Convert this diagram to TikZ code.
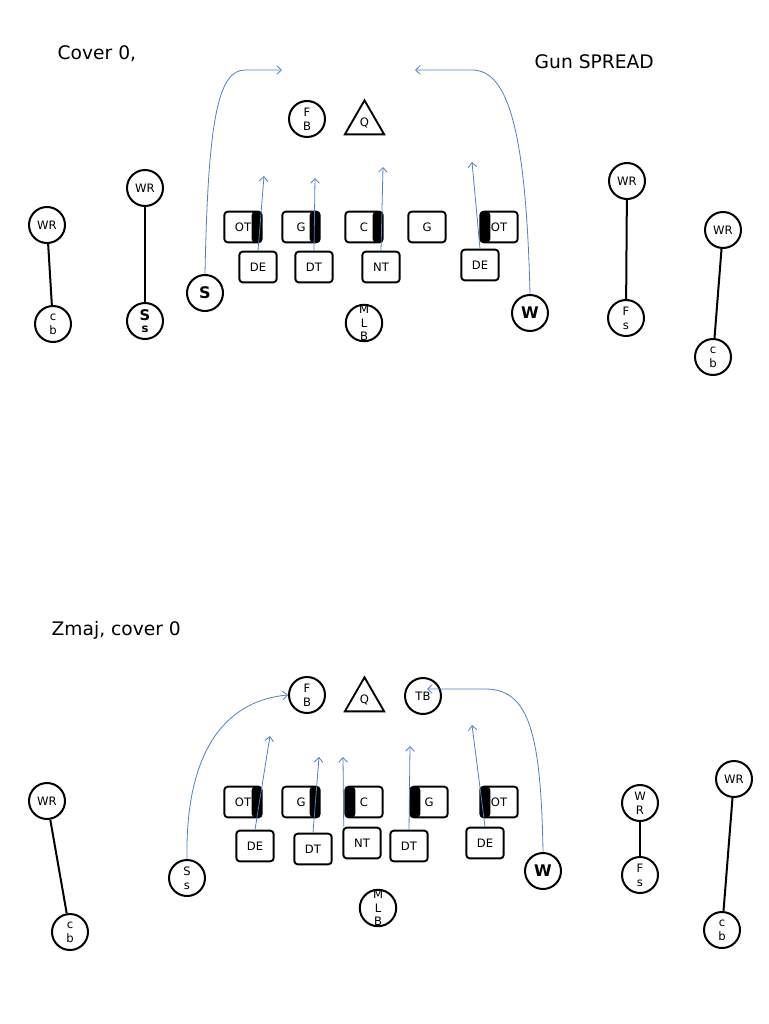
\documentclass[tikz,border=0pt]{standalone}
\usepackage{fontspec}
\setmainfont{DejaVu Sans}
\usetikzlibrary{arrows.meta,shapes.geometric}
\definecolor{route}{RGB}{79,129,189}

\begin{document}
\begin{tikzpicture}[
    x=0.75pt, y=-0.75pt,
    font=\fontsize{8.7}{10.5}\selectfont,
    plr/.style={circle,draw,line width=1.5pt,minimum size=27pt,inner sep=0pt,align=center},
    big/.style={plr,font=\fontsize{12}{14}\selectfont\bfseries},
    box/.style={draw,rounded corners=2.5pt,line width=1.4pt,minimum width=28pt,minimum height=23pt,inner sep=0pt},
    barR/.style={box,path picture={\fill ([xshift=-7.5pt]path picture bounding box.north east) rectangle (path picture bounding box.south east);}},
    barL/.style={box,path picture={\fill (path picture bounding box.north west) rectangle ([xshift=7.5pt]path picture bounding box.south west);}},
    qb/.style={regular polygon,regular polygon sides=3,draw,line width=1.4pt,minimum size=34pt,inner sep=0pt},
    link/.style={line width=1.5pt},
    arr/.style={draw=route,line width=0.6pt,-{Straight Barb[length=3.5pt,width=6.5pt]}},
    ttl/.style={anchor=west,font=\fontsize{14}{16}\selectfont}
  ]
    \useasboundingbox (0,0) rectangle (768,1024);

    % Top: titles
    \node[ttl] (cov) at (53,54) {Cover 0,};
    \node[ttl] (gun) at (530,62) {Gun SPREAD};

    % Top: backfield
    \node[plr] (fbA) at (307,119) {F\\B};
    \node[qb] (qA) at (364.5,123) {Q};

    % Top: offensive line
    \node[barR] (otA) at (243,227) {OT};
    \node[barR] (gA) at (301,227) {G};
    \node[barR] (cA) at (364,227) {C};
    \node[box] (g2A) at (427,227) {G};
    \node[barL] (ot2A) at (499,227) {OT};

    % Top: defensive front
    \node[box] (deA) at (258,267) {DE};
    \node[box] (dtA) at (314,267) {DT};
    \node[box] (ntA) at (381,267) {NT};
    \node[box] (de2A) at (480,265) {DE};
    \node[big] (sA) at (205,293) {S};
    \node[big] (wA) at (530,313) {W};
    \node[plr,font=\fontsize{8.7}{10}\selectfont] (mlbA) at (364,323) {M\\L\\B};

    % Top: receivers and cover men
    \node[plr] (wr1A) at (47,225) {WR};
    \node[plr] (cb1A) at (53,324) {c\\b};
    \node[plr] (wr2A) at (145,188) {WR};
    \node[plr] (ss2A) at (145,321) {{\fontsize{11}{12}\selectfont\bfseries S}\\[-1pt]\bfseries s};
    \node[plr] (wr3A) at (627,181) {WR};
    \node[plr] (fs3A) at (626,318) {F\\s};
    \node[plr] (wr4A) at (723,230) {WR};
    \node[plr] (cb4A) at (713,357) {c\\b};
    \draw[link] (wr1A) -- (cb1A);
    \draw[link,line width=2.2pt] (wr2A) -- (ss2A);
    \draw[link] (wr3A) -- (fs3A);
    \draw[link] (wr4A) -- (cb4A);

    % Top: rush and blitz paths
    \coordinate (tA1) at (264,176);
    \coordinate (tA2) at (315,178);
    \coordinate (tA3) at (383,167);
    \coordinate (tA4) at (472,162);
    \coordinate (tA5) at (282,70);
    \coordinate (tA6) at (415,70);
    \draw[arr] (deA.north) -- (tA1);
    \draw[arr] (dtA.north) -- (tA2);
    \draw[arr] (ntA.north) -- (tA3);
    \draw[arr] (de2A.north) -- (tA4);
    \draw[arr] (sA.north) .. controls (208,120) and (218,70) .. (245,70) -- (tA5);
    \draw[arr] (wA.north) .. controls (526,130) and (508,70) .. (472,70) -- (tA6);

    % Bottom: title
    \node[ttl] (zmaj) at (47,630) {Zmaj, cover 0};

    % Bottom: backfield
    \node[plr] (fbB) at (307,695) {F\\B};
    \node[qb] (qB) at (364.5,700) {Q};
    \node[plr] (tbB) at (423,696) {TB};

    % Bottom: offensive line
    \node[barR] (otB) at (243,802) {OT};
    \node[barR] (gB) at (301,802) {G};
    \node[barL] (cB) at (364,802) {C};
    \node[barL] (g2B) at (429,802) {G};
    \node[barL] (ot2B) at (499,802) {OT};

    % Bottom: defensive front
    \node[box] (deB) at (255,846) {DE};
    \node[box] (dtB) at (313,849) {DT};
    \node[box] (ntB) at (362,843) {NT};
    \node[box] (dt2B) at (409,846) {DT};
    \node[box] (de2B) at (485,843) {DE};
    \node[plr] (ssB) at (187,878) {S\\s};
    \node[big] (wB) at (543,871) {W};
    \node[plr,font=\fontsize{8.7}{10}\selectfont] (mlbB) at (378,908) {M\\L\\B};

    % Bottom: receivers and cover men
    \node[plr] (wr1B) at (47,801) {WR};
    \node[plr] (cb1B) at (70,932) {c\\b};
    \node[plr] (wr2B) at (640,803) {W\\R};
    \node[plr] (fs2B) at (640,875) {F\\s};
    \node[plr] (wr3B) at (734,779) {WR};
    \node[plr] (cb3B) at (722,930) {c\\b};
    \draw[link] (wr1B) -- (cb1B);
    \draw[link] (wr2B) -- (fs2B);
    \draw[link] (wr3B) -- (cb3B);

    % Bottom: rush and blitz paths
    \coordinate (tB1) at (270,736);
    \coordinate (tB2) at (319,757);
    \coordinate (tB3) at (343,757);
    \coordinate (tB4) at (410,746);
    \coordinate (tB5) at (472,725);
    \coordinate (tB6) at (427,689);
    \draw[arr] (deB.north) -- (tB1);
    \draw[arr] (dtB.north) -- (tB2);
    \draw[arr] ([xshift=1pt]ntB.north west) -- (tB3);
    \draw[arr] (dt2B.north) -- (tB4);
    \draw[arr] (de2B.north) -- (tB5);
    \draw[arr] (ssB.north) .. controls (185,745) and (230,700) .. (fbB.west);
    \draw[arr] (wB.north) .. controls (541,730) and (528,689) .. (485,689) -- (tB6);
  \end{tikzpicture}
\end{document}
